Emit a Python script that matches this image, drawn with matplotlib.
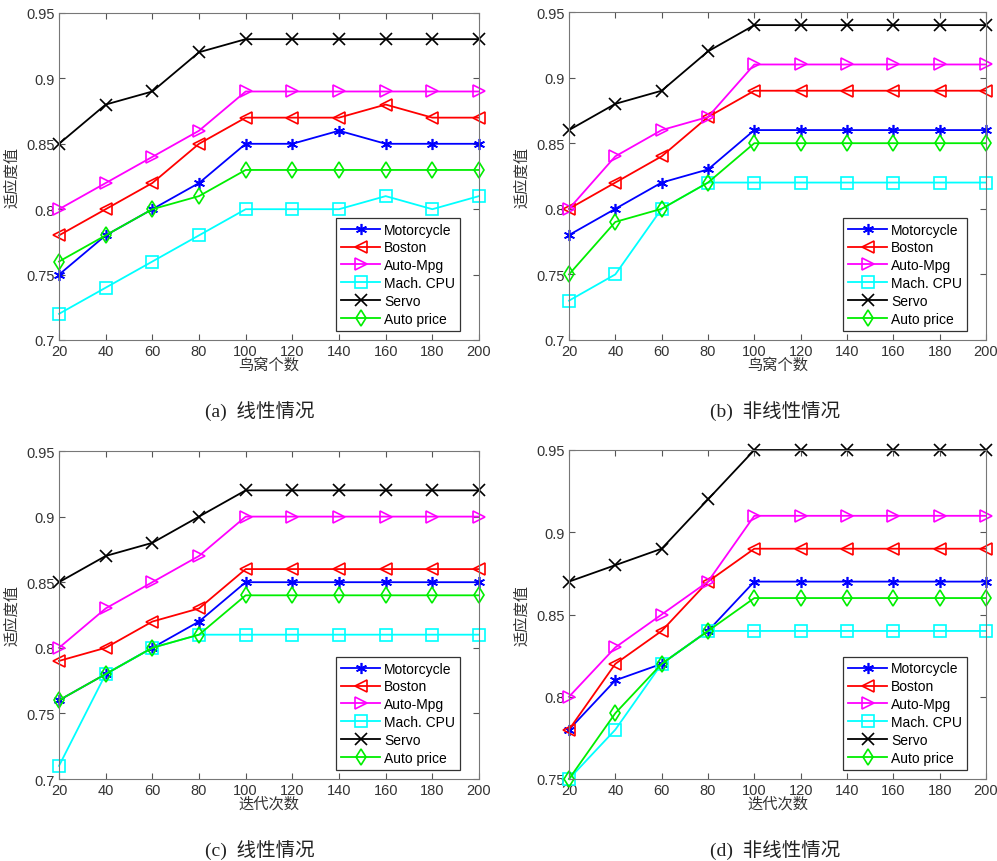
import matplotlib
matplotlib.use('Agg')
import matplotlib.pyplot as plt
from matplotlib.ticker import FormatStrFormatter

plt.rcParams['font.family'] = ['Liberation Sans', 'Noto Sans CJK SC']

x = [20, 40, 60, 80, 100, 120, 140, 160, 180, 200]
names = ['Motorcycle', 'Boston', 'Auto-Mpg', 'Mach. CPU', 'Servo', 'Auto price']

# (a) 线性情况 - 鸟窝个数
a_vals = [
    [0.75, 0.78, 0.80, 0.82, 0.85, 0.85, 0.86, 0.85, 0.85, 0.85],
    [0.78, 0.80, 0.82, 0.85, 0.87, 0.87, 0.87, 0.88, 0.87, 0.87],
    [0.80, 0.82, 0.84, 0.86, 0.89, 0.89, 0.89, 0.89, 0.89, 0.89],
    [0.72, 0.74, 0.76, 0.78, 0.80, 0.80, 0.80, 0.81, 0.80, 0.81],
    [0.85, 0.88, 0.89, 0.92, 0.93, 0.93, 0.93, 0.93, 0.93, 0.93],
    [0.76, 0.78, 0.80, 0.81, 0.83, 0.83, 0.83, 0.83, 0.83, 0.83],
]
# (b) 非线性情况 - 鸟窝个数
b_vals = [
    [0.78, 0.80, 0.82, 0.83, 0.86, 0.86, 0.86, 0.86, 0.86, 0.86],
    [0.80, 0.82, 0.84, 0.87, 0.89, 0.89, 0.89, 0.89, 0.89, 0.89],
    [0.80, 0.84, 0.86, 0.87, 0.91, 0.91, 0.91, 0.91, 0.91, 0.91],
    [0.73, 0.75, 0.80, 0.82, 0.82, 0.82, 0.82, 0.82, 0.82, 0.82],
    [0.86, 0.88, 0.89, 0.92, 0.94, 0.94, 0.94, 0.94, 0.94, 0.94],
    [0.75, 0.79, 0.80, 0.82, 0.85, 0.85, 0.85, 0.85, 0.85, 0.85],
]
# (c) 线性情况 - 迭代次数
c_vals = [
    [0.76, 0.78, 0.80, 0.82, 0.85, 0.85, 0.85, 0.85, 0.85, 0.85],
    [0.79, 0.80, 0.82, 0.83, 0.86, 0.86, 0.86, 0.86, 0.86, 0.86],
    [0.80, 0.83, 0.85, 0.87, 0.90, 0.90, 0.90, 0.90, 0.90, 0.90],
    [0.71, 0.78, 0.80, 0.81, 0.81, 0.81, 0.81, 0.81, 0.81, 0.81],
    [0.85, 0.87, 0.88, 0.90, 0.92, 0.92, 0.92, 0.92, 0.92, 0.92],
    [0.76, 0.78, 0.80, 0.81, 0.84, 0.84, 0.84, 0.84, 0.84, 0.84],
]
# (d) 非线性情况 - 迭代次数
d_vals = [
    [0.78, 0.81, 0.82, 0.84, 0.87, 0.87, 0.87, 0.87, 0.87, 0.87],
    [0.78, 0.82, 0.84, 0.87, 0.89, 0.89, 0.89, 0.89, 0.89, 0.89],
    [0.80, 0.83, 0.85, 0.87, 0.91, 0.91, 0.91, 0.91, 0.91, 0.91],
    [0.75, 0.78, 0.82, 0.84, 0.84, 0.84, 0.84, 0.84, 0.84, 0.84],
    [0.87, 0.88, 0.89, 0.92, 0.95, 0.95, 0.95, 0.95, 0.95, 0.95],
    [0.75, 0.79, 0.82, 0.84, 0.86, 0.86, 0.86, 0.86, 0.86, 0.86],
]

colors = ['#0000ff', '#ff0000', '#ff00ff', '#00ffff', '#000000', '#00ee00']
markers = [(6, 2, 0), '<', '>', 's', 'x', 'd']

panels = [
    (a_vals, '鸟窝个数', '(a)  线性情况', (0.7, 0.95)),
    (b_vals, '鸟窝个数', '(b)  非线性情况', (0.7, 0.95)),
    (c_vals, '迭代次数', '(c)  线性情况', (0.7, 0.95)),
    (d_vals, '迭代次数', '(d)  非线性情况', (0.75, 0.95)),
]

W, H = 997, 862
fig = plt.figure(figsize=(W / 100, H / 100), dpi=100)
# axes boxes in pixels: left, top, right, bottom
boxes = [(59, 14, 479, 341), (569, 13, 986, 341),
         (59, 452, 479, 780), (569, 451, 986, 780)]
cap_pos = [(260, 411), (775, 411), (260, 850), (775, 850)]

for (vals, xlab, cap, ylim), (l, t, r, b), (cx, cy) in zip(panels, boxes, cap_pos):
    ax = fig.add_axes([l / W, 1 - b / H, (r - l) / W, (b - t) / H])
    for v, name, c, m in zip(vals, names, colors, markers):
        ax.plot(x, v, color=c, marker=m, markersize=8, markerfacecolor='none',
                markeredgewidth=1.2, linewidth=1.3, label=name, clip_on=False)
    ax.set_xlim(20, 200)
    ax.set_ylim(*ylim)
    ax.set_xticks(x)
    ax.set_yticks([0.7, 0.75, 0.8, 0.85, 0.9, 0.95] if ylim[0] == 0.7
                  else [0.75, 0.8, 0.85, 0.9, 0.95])
    ax.yaxis.set_major_formatter(FormatStrFormatter('%g'))
    ax.tick_params(direction='in', top=True, right=True, labelsize=10.5,
                   colors='#555555', labelcolor='#333333', length=4, pad=3)
    for s in ax.spines.values():
        s.set_color('#777777')
    ax.set_xlabel(xlab, fontsize=11, color='#333333', labelpad=-1)
    ax.set_ylabel('适应度值', fontsize=11, color='#333333', labelpad=5)
    leg = ax.legend(loc='lower right', bbox_to_anchor=(0.955, 0.028), fontsize=10,
                    frameon=True, fancybox=False, edgecolor='black',
                    handlelength=2.8, borderpad=0.35, labelspacing=0.28,
                    handletextpad=0.3, borderaxespad=0)
    leg.get_frame().set_linewidth(0.9)
    fig.text(cx / W, 1 - cy / H, cap, ha='center', va='center', fontsize=14,
             family=['Liberation Serif', 'Noto Sans CJK SC'], color='#222222')

plt.savefig('out.png', dpi=100)
